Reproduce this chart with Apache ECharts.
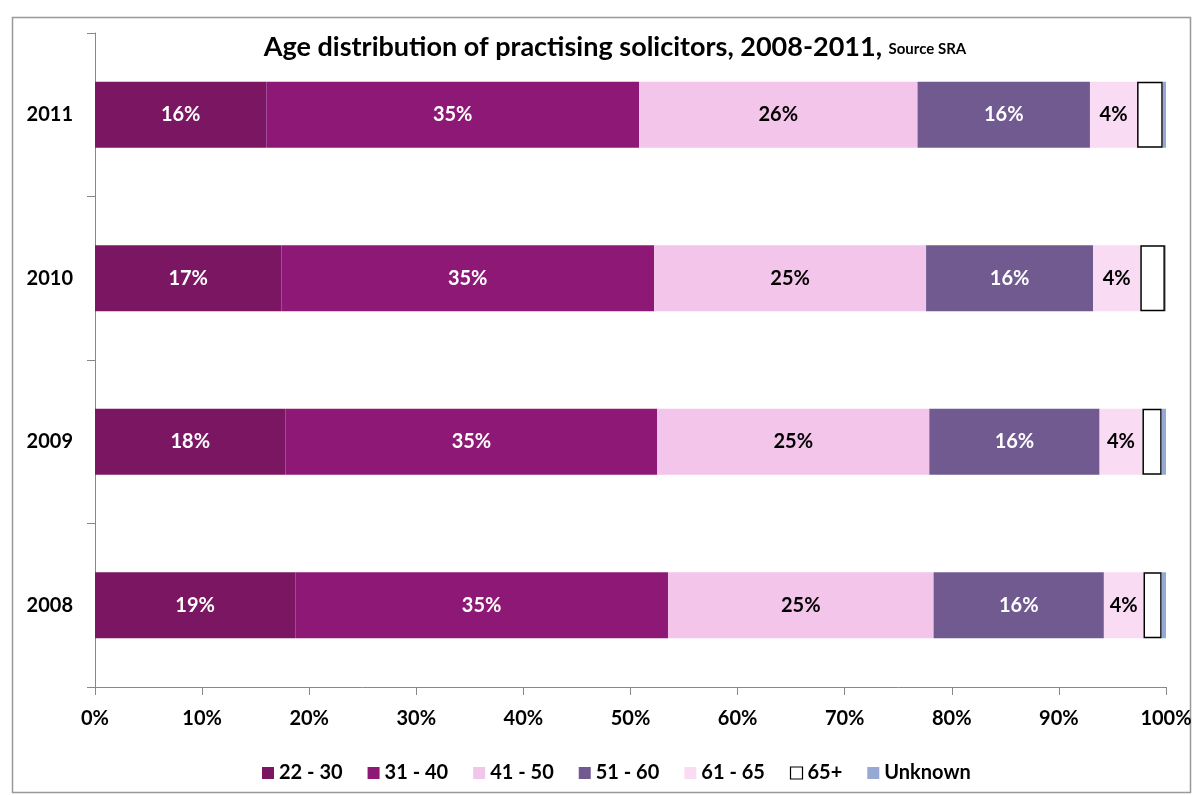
<!DOCTYPE html>
<html>
<head>
<meta charset="utf-8">
<script src="https://cdn.jsdelivr.net/npm/echarts@6/dist/echarts.min.js"></script>
<style>html,body{margin:0;padding:0;background:#fff}#c{width:1197px;height:795px}</style>
</head>
<body>
<div id="c"></div>
<script>
var years = ['2008', '2009', '2010', '2011'];
var groups = ['22 - 30', '31 - 40', '41 - 50', '51 - 60', '61 - 65', '65+', 'Unknown'];
var age22_30 = [18.7, 17.8, 17.4, 16.0];
var age31_40 = [34.8, 34.7, 34.8, 34.8];
var age41_50 = [24.8, 25.4, 25.4, 26.0];
var age51_60 = [15.9, 15.9, 15.6, 16.1];
var age61_65 = [3.7, 4.0, 4.4, 4.4];
var age65plus = [1.7, 1.8, 2.3, 2.4];
var unknown = [0.4, 0.4, 0.1, 0.3];
var xTicks = ['0%', '10%', '20%', '30%', '40%', '50%', '60%', '70%', '80%', '90%', '100%'];

var values = [age22_30, age31_40, age41_50, age51_60, age61_65, age65plus, unknown];
var colors = ['#7A1662', '#8E1875', '#F4C5EA', '#705A90', '#F9DCF3', '#FFFFFF', '#95A9D4'];
var labelColors = ['#fff', '#fff', '#000', '#fff', '#000', null, null];
var FONT = 'Lato, "Open Sans", sans-serif';

var series = groups.map(function (g, i) {
  return {
    name: g,
    type: 'bar',
    stack: 'total',
    barWidth: 66,
    data: values[i],
    itemStyle: i === 5 ? { color: '#fff', borderColor: '#000', borderWidth: 1.5 } : { color: colors[i] },
    label: labelColors[i] ? {
      show: true,
      position: 'inside',
      color: labelColors[i],
      fontFamily: FONT,
      fontWeight: 'bold',
      fontSize: 20,
      formatter: function (p) { return Math.round(p.value) + '%'; }
    } : { show: false }
  };
});

var chart = echarts.init(document.getElementById('c'));
chart.setOption({
  animation: false,
  textStyle: { fontFamily: FONT },
  title: {
    text: '{m|Age distribution of practising solicitors, 2008-2011, }{s|Source SRA}',
    left: 610,
    textAlign: 'center',
    top: 29,
    textStyle: {
      rich: {
        m: { fontFamily: FONT, fontSize: 27, fontWeight: 'bold', color: '#000' },
        s: { fontFamily: FONT, fontSize: 15, fontWeight: 'bold', color: '#000', padding: [4, 0, 0, 0] }
      }
    }
  },
  legend: {
    bottom: 7,
    left: 257,
    itemWidth: 12,
    itemHeight: 12,
    itemGap: 25,
    icon: 'rect',
    textStyle: { fontFamily: FONT, fontSize: 20, fontWeight: 'bold', color: '#000' },
    data: groups.map(function (g, i) {
      return i === 5 ? { name: g, itemStyle: { color: '#fff', borderColor: '#000', borderWidth: 1.2 } } : { name: g };
    })
  },
  grid: { left: 95, right: 31, top: 33, bottom: 108, containLabel: false },
  xAxis: {
    type: 'value',
    min: 0,
    max: 100,
    interval: 10,
    axisLine: { show: true, lineStyle: { color: '#888' } },
    axisTick: { show: true, length: 8, lineStyle: { color: '#888' } },
    splitLine: { show: false },
    axisLabel: {
      margin: 22,
      fontFamily: FONT,
      fontSize: 20,
      fontWeight: 'bold',
      color: '#000',
      formatter: function (v) { return xTicks[Math.round(v / 10)]; }
    }
  },
  yAxis: {
    type: 'category',
    data: years,
    axisLine: { show: true, lineStyle: { color: '#888' } },
    axisTick: { show: true, length: 8, lineStyle: { color: '#888' } },
    axisLabel: { margin: 22, fontFamily: FONT, fontSize: 20, fontWeight: 'bold', color: '#000' }
  },
  color: colors,
  graphic: [{
    type: 'rect',
    left: 10, top: 15,
    shape: { width: 1178, height: 775 },
    style: { fill: 'none', stroke: '#999', lineWidth: 1.5 },
    silent: true
  }],
  series: series
});
</script>
</body>
</html>
